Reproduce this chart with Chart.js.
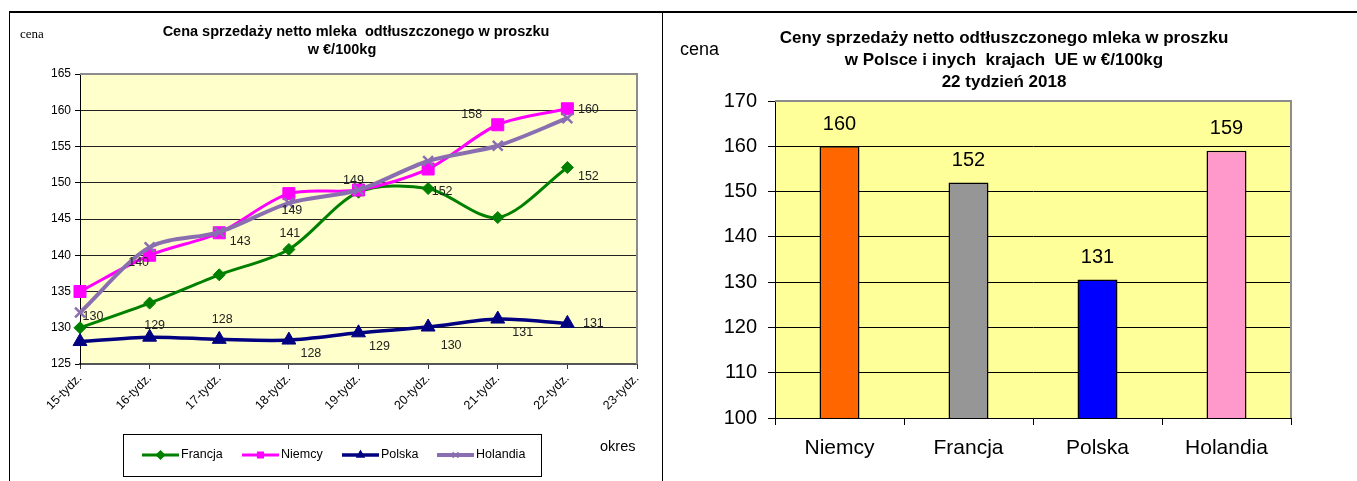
<!DOCTYPE html>
<html>
<head>
<meta charset="utf-8">
<script src="https://cdn.jsdelivr.net/npm/chart.js@4.4.1/dist/chart.umd.min.js"></script>
<style>
  body { margin: 0; background: #fff; }
  #frameTop { position: absolute; left: 9px; top: 11px; width: 1348px; height: 0; border-top: 2px solid #000; }
  #frameLeft { position: absolute; left: 9px; top: 11px; width: 0; height: 470px; border-left: 1px solid #000; }
  #divider { position: absolute; left: 662px; top: 11px; width: 0; height: 470px; border-left: 1px solid #000; }
  #weekly { position: absolute; left: 11px; top: 13px; }
  #countries { position: absolute; left: 663px; top: 13px; }
</style>
</head>
<body>
<div id="frameTop"></div>
<div id="frameLeft"></div>
<div id="divider"></div>
<canvas id="weekly" width="651" height="468"></canvas>
<canvas id="countries" width="694" height="468"></canvas>
<script>
/* global Chart */
// weekly prices, EUR/100kg
const weeks = ["15-tydz.", "16-tydz.", "17-tydz.", "18-tydz.", "19-tydz.", "20-tydz.", "21-tydz.", "22-tydz.", "23-tydz."];
const francja = [130, 133.4, 137.3, 140.8, 148.7, 149.2, 145.2, 152.1];
const niemcy = [135, 140, 143.1, 148.5, 149, 151.9, 158, 160.2];
const polska = [128.1, 128.7, 128.4, 128.3, 129.3, 130.1, 131.2, 130.6];
const holandia = [132.1, 141.1, 143.2, 147.2, 149, 153, 155.1, 158.9];

// data labels as printed on the chart
const francjaLabels = ["130", null, null, "141", null, null, null, "152"];
const niemcyLabels = [null, "140", "143", "149", null, "152", "158", "160"];
const polskaLabels = [null, "129", "128", "128", "129", "130", "131", "131"];
const holandiaLabels = [null, null, null, null, "149", null, null, null];

// week 22 comparison
const countries = ["Niemcy", "Francja", "Polska", "Holandia"];
const prices22 = [160, 152, 130.6, 159];
const priceLabels = ["160", "152", "131", "159"];

const leftTitle = ["Cena sprzedaży netto mleka  odtłuszczonego w proszku", "w €/100kg"];
const rightTitle = ["Ceny sprzedaży netto odtłuszczonego mleka w proszku", "w Polsce i inych  krajach  UE w €/100kg", "22 tydzień 2018"];

const FONT = "'Liberation Sans', Arial, sans-serif";

// label offsets (px from the point), same order as the label arrays
const labelOffsets = {
  Francja: [[13, -11], null, null, [1, -16], null, null, null, [21, 9]],
  Niemcy: [null, [-11, 7], [21, 9], [3, 17], null, [14, 23], [-26, -10], [21, 1]],
  Polska: [null, [5, -12], [3, -20], [22, 13], [21, 14], [23, 19], [25, 13], [26, 0]],
  Holandia: [null, null, null, null, [-5, -9], null, null, null],
};

const plotBackground = {
  id: "plotBackground",
  beforeDraw(chart, args, opts) {
    const { ctx, chartArea: a } = chart;
    ctx.save();
    ctx.fillStyle = opts.color;
    ctx.fillRect(a.left, a.top, a.right - a.left, a.bottom - a.top);
    ctx.restore();
  },
  beforeDatasetsDraw(chart, args, opts) {
    const { ctx, chartArea: a } = chart;
    ctx.save();
    ctx.strokeStyle = opts.border;
    ctx.lineWidth = 2;
    ctx.beginPath();
    ctx.moveTo(a.left, a.top);
    ctx.lineTo(a.right, a.top);
    ctx.lineTo(a.right, a.bottom);
    ctx.stroke();
    ctx.restore();
  },
};

const freeTexts = {
  id: "freeTexts",
  afterDraw(chart, args, opts) {
    const ctx = chart.ctx;
    ctx.save();
    ctx.textBaseline = "middle";
    (opts.items || []).forEach((t) => {
      ctx.font = t.font;
      ctx.fillStyle = t.color || "#000";
      ctx.textAlign = t.align || "center";
      ctx.fillText(t.text, t.x, t.y);
    });
    ctx.restore();
  },
};

const pointLabels = {
  id: "pointLabels",
  afterDatasetsDraw(chart, args, opts) {
    const ctx = chart.ctx;
    ctx.save();
    ctx.font = opts.font;
    ctx.fillStyle = opts.color;
    ctx.textAlign = "center";
    ctx.textBaseline = "middle";
    chart.data.datasets.forEach((ds, i) => {
      if (!ds.valueLabels) return;
      const meta = chart.getDatasetMeta(i);
      ds.valueLabels.forEach((txt, j) => {
        if (txt == null || !meta.data[j]) return;
        const p = meta.data[j];
        const off = (ds.labelOffsets && ds.labelOffsets[j]) || [0, -opts.lift];
        ctx.fillText(txt, p.x + off[0], p.y + off[1]);
      });
    });
    ctx.restore();
  },
};

// Excel-like legend: line sample with marker
const lineLegend = {
  id: "lineLegend",
  afterDraw(chart, args, opts) {
    const ctx = chart.ctx;
    const b = opts.box;
    ctx.save();
    ctx.fillStyle = "#fff";
    ctx.fillRect(b.x, b.y, b.w, b.h);
    ctx.strokeStyle = "#000";
    ctx.lineWidth = 1;
    ctx.strokeRect(b.x + 0.5, b.y + 0.5, b.w, b.h);
    ctx.font = opts.font;
    ctx.textBaseline = "middle";
    ctx.textAlign = "left";
    chart.data.datasets.forEach((ds, i) => {
      const x = opts.starts[i];
      const y = b.y + b.h / 2;
      ctx.strokeStyle = ds.borderColor;
      ctx.lineWidth = ds.borderWidth;
      ctx.beginPath();
      ctx.moveTo(x, y);
      ctx.lineTo(x + opts.sample, y);
      ctx.stroke();
      ctx.fillStyle = ds.borderColor;
      ctx.lineWidth = 1.5;
      if (Chart.helpers && Chart.helpers.drawPoint) {
        Chart.helpers.drawPoint(ctx, { pointStyle: ds.pointStyle, radius: 4, rotation: 0, borderWidth: 1.5 }, x + opts.sample / 2, y);
      }
      ctx.fillStyle = "#000";
      ctx.fillText(ds.label, x + opts.sample + 2, y);
    });
    ctx.restore();
  },
};

function lineSeries(label, data, valueLabels, color, style, radius, width, order) {
  return {
    label,
    data,
    valueLabels,
    labelOffsets: labelOffsets[label],
    borderColor: color,
    backgroundColor: color,
    borderWidth: width,
    pointStyle: style,
    pointRadius: radius,
    pointHoverRadius: radius,
    pointBorderWidth: style === "crossRot" ? 2.5 : 1,
    pointBackgroundColor: color,
    pointBorderColor: color,
    tension: 0.3,
    order,
  };
}

new Chart(document.getElementById("weekly"), {
  type: "line",
  data: {
    labels: weeks,
    datasets: [
      lineSeries("Francja", francja, francjaLabels, "#008000", "rectRot", 6, 3, 3),
      lineSeries("Niemcy", niemcy, niemcyLabels, "#ff00ff", "rect", 8.5, 3, 2),
      lineSeries("Polska", polska, polskaLabels, "#000080", "triangle", 8, 3.5, 1),
      lineSeries("Holandia", holandia, holandiaLabels, "#8a6fb0", "crossRot", 7, 4, 0),
    ],
  },
  options: {
    responsive: false,
    animation: false,
    layout: { padding: { left: 0, top: 61, right: 25, bottom: 0 } },
    scales: {
      x: {
        offset: false,
        afterFit: (scale) => { scale.height = 117; },
        grid: { drawOnChartArea: false, drawTicks: true, tickLength: 5, tickColor: "#333" },
        border: { color: "#555", width: 2 },
        ticks: { color: "#000", font: { family: FONT, size: 12.5 }, minRotation: 45, maxRotation: 45, padding: 2, autoSkip: false },
      },
      y: {
        min: 125,
        max: 165,
        afterFit: (scale) => { scale.width = 69; },
        grid: {
          tickLength: 5,
          color: (c) => (c.tick && c.tick.value === 165 ? "rgba(0,0,0,0)" : "#222"),
          tickColor: "#000",
        },
        border: { color: "#000", width: 1 },
        ticks: { stepSize: 5, color: "#000", padding: 4, font: { family: FONT, size: 12 } },
      },
    },
    plugins: {
      legend: { display: false },
      tooltip: { enabled: false },
      plotBackground: { color: "#ffffcc", border: "#8c8c8c" },
      pointLabels: { font: "12.5px " + FONT, color: "#222", lift: 12 },
      lineLegend: { box: { x: 112, y: 421, w: 418, h: 42 }, starts: [131, 231, 331, 426], sample: 37, font: "12.5px " + FONT },
      freeTexts: {
        items: [
          { text: "cena", x: 9, y: 22, align: "left", font: "13px 'Liberation Serif', serif" },
          { text: leftTitle[0], x: 345, y: 19, font: "bold 14.5px " + FONT },
          { text: leftTitle[1], x: 331, y: 37, font: "bold 14.5px " + FONT },
          { text: "okres", x: 589, y: 434, align: "left", font: "14.5px " + FONT },
        ],
      },
    },
  },
  plugins: [plotBackground, pointLabels, lineLegend, freeTexts],
});

new Chart(document.getElementById("countries"), {
  type: "bar",
  data: {
    labels: countries,
    datasets: [
      {
        label: "22 tydzień 2018",
        data: prices22,
        valueLabels: priceLabels,
        backgroundColor: ["#ff6600", "#969696", "#0000ff", "#ff99cc"],
        borderColor: "#000",
        borderWidth: 1.5,
        categoryPercentage: 1,
        barPercentage: 0.31,
      },
    ],
  },
  options: {
    responsive: false,
    animation: false,
    layout: { padding: { left: 0, top: 88, right: 66, bottom: 0 } },
    scales: {
      x: {
        afterFit: (scale) => { scale.height = 63; },
        grid: { offset: true, drawOnChartArea: false, tickLength: 7, tickColor: "#000" },
        border: { color: "#000", width: 1 },
        ticks: { color: "#000", padding: 11, font: { family: FONT, size: 21 } },
      },
      y: {
        min: 100,
        max: 170,
        afterFit: (scale) => { scale.width = 112; },
        grid: {
          tickLength: 7,
          color: (c) => (c.tick && c.tick.value === 170 ? "rgba(0,0,0,0)" : "#000"),
          tickColor: "#000",
        },
        border: { color: "#000", width: 1 },
        ticks: { stepSize: 10, color: "#000", padding: 11, font: { family: FONT, size: 20 } },
      },
    },
    plugins: {
      legend: { display: false },
      tooltip: { enabled: false },
      plotBackground: { color: "#ffff99", border: "#8c8c8c" },
      pointLabels: { font: "20px " + FONT, color: "#000", lift: 22 },
      freeTexts: {
        items: [
          { text: "cena", x: 17, y: 37, align: "left", font: "18px " + FONT },
          { text: rightTitle[0], x: 341, y: 25, font: "bold 17px " + FONT },
          { text: rightTitle[1], x: 341, y: 47, font: "bold 17px " + FONT },
          { text: rightTitle[2], x: 341, y: 69, font: "bold 17px " + FONT },
        ],
      },
    },
  },
  plugins: [plotBackground, pointLabels, freeTexts],
});
</script>
</body>
</html>
